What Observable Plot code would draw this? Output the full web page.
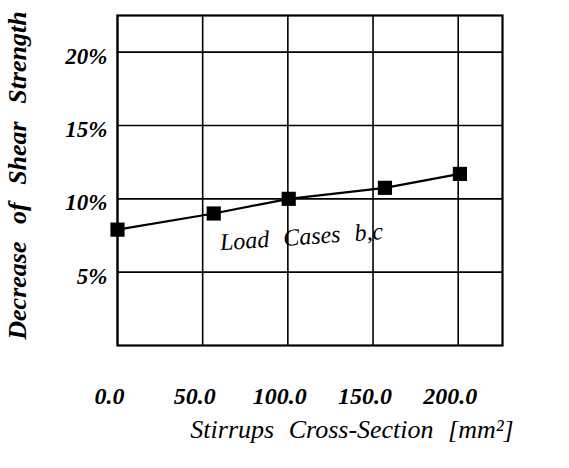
<!DOCTYPE html>
<html>
<head>
<meta charset="utf-8">
<script src="https://cdn.jsdelivr.net/npm/d3@7"></script>
<script src="https://cdn.jsdelivr.net/npm/@observablehq/plot@0.6"></script>
<style>
  html, body { margin: 0; padding: 0; background: #fff; }
  .wide { word-spacing: 8px; }
  .wider { word-spacing: 11px; }
</style>
</head>
<body>
<div id="chart"></div>
<script>
const stirrups = [0, 56.5, 100.5, 157, 201];
const decrease = [7.9, 9.0, 10.0, 10.75, 11.7];
const xTicks = [0, 50, 100, 150, 200];
const yTicks = [5, 10, 15, 20];
const seriesLabel = "Load Cases b,c";
const xLabel = "Stirrups Cross-Section [mm²]";
const yLabel = "Decrease of Shear Strength";

const data = stirrups.map((s, i) => ({s, d: decrease[i]}));
const F = "'Liberation Serif', 'Times New Roman', serif";

const chart = Plot.plot({
  width: 569,
  height: 468,
  marginLeft: 117,
  marginRight: 67,
  marginTop: 15,
  marginBottom: 123,
  style: {background: "#fff", color: "#000", fontFamily: F},
  x: {domain: [0, 226]},
  y: {domain: [0, 22.5]},
  marks: [
    Plot.gridX(xTicks, {stroke: "#000", strokeOpacity: 1, strokeWidth: 1.6}),
    Plot.gridY(yTicks, {stroke: "#000", strokeOpacity: 1, strokeWidth: 1.6}),
    Plot.frame({stroke: "#000", strokeWidth: 2.2}),
    Plot.axisX(xTicks, {tickSize: 0, tickPadding: 41, tickFormat: d => d.toFixed(1), fontSize: 24, fontFamily: F, fontWeight: "bold", fontStyle: "italic", dx: -8, label: null}),
    Plot.axisY(yTicks, {tickSize: 0, tickPadding: 10, tickFormat: d => d + "%", fontSize: 23, fontFamily: F, fontWeight: "bold", fontStyle: "italic", dy: 4, label: null}),
    Plot.line(data, {x: "s", y: "d", stroke: "#000", strokeWidth: 2.2}),
    Plot.dot(data, {x: "s", y: "d", symbol: "square", r: 8, fill: "#000", stroke: "none"}),
    Plot.text([seriesLabel], {x: 108, y: 7.4, fontSize: 24, fontFamily: F, fontStyle: "italic", rotate: -4, fill: "#000", className: "wide"}),
    Plot.text([xLabel], {frameAnchor: "bottom", dx: 42, dy: 92, fontSize: 26, fontFamily: F, fontStyle: "italic", fill: "#000", className: "wide"}),
    Plot.text([yLabel], {frameAnchor: "left", textAnchor: "middle", dx: -100, dy: -5, rotate: -90, fontSize: 26, fontFamily: F, fontWeight: "bold", fontStyle: "italic", fill: "#000", className: "wider"})
  ]
});
document.getElementById("chart").appendChild(chart);
</script>
</body>
</html>
